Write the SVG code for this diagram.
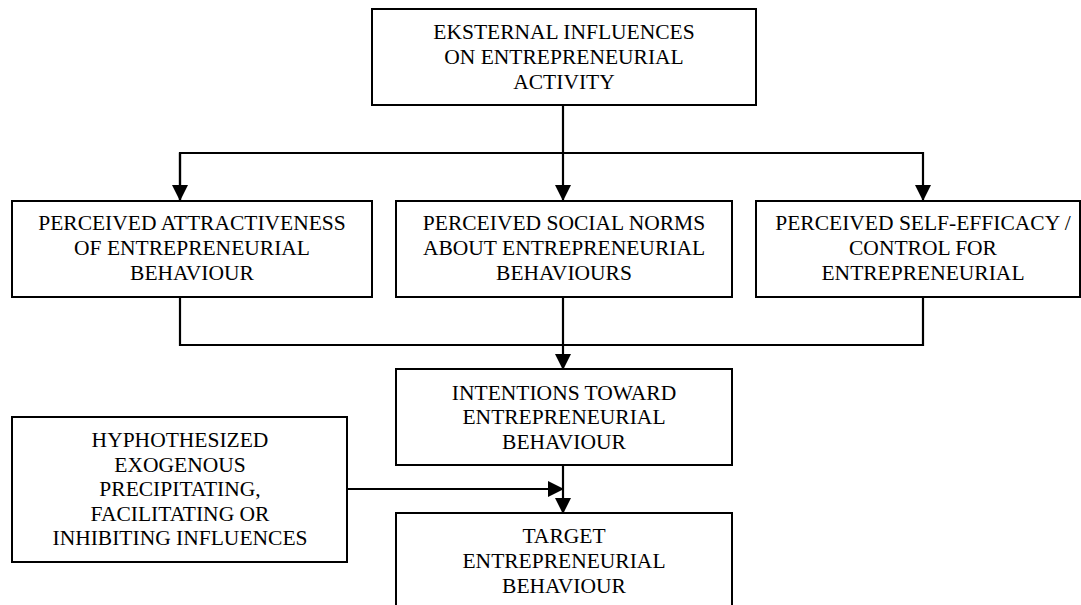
<svg xmlns="http://www.w3.org/2000/svg" width="1081" height="605" viewBox="0 0 1081 605">
<style>
.box{fill:#fff;stroke:#000;stroke-width:2}
.t{font-family:"Liberation Serif","Times New Roman",serif;font-size:21.5px;fill:#000;text-anchor:middle}
.c{fill:none;stroke:#000;stroke-width:2.2}
</style>
<defs>
<marker id="ah" markerUnits="userSpaceOnUse" markerWidth="16" markerHeight="16" viewBox="0 0 16 16" refX="15" refY="8" orient="auto">
<path d="M0,0 L16,8 L0,16 Z" fill="#000"/>
</marker>
</defs>
<rect width="1081" height="605" fill="#fff"/>
<g id="connectors">
<path class="c" d="M563,105 V200" marker-end="url(#ah)"/>
<path class="c" d="M180,200 V153 H923 V200" marker-end="url(#ah)"/>
<path class="c" d="M180,153 V200" marker-end="url(#ah)"/>
<path class="c" d="M180,297 V345 H923 V297"/>
<path class="c" d="M563,297 V369" marker-end="url(#ah)"/>
<path class="c" d="M563,465 V513" marker-end="url(#ah)"/>
<path class="c" d="M347,489 H563" marker-end="url(#ah)"/>
</g>
<g id="external">
<rect class="box" x="372" y="9" width="384" height="96"/>
<text class="t" x="564" y="39">EKSTERNAL INFLUENCES</text>
<text class="t" x="564" y="64">ON ENTREPRENEURIAL</text>
<text class="t" x="564" y="89">ACTIVITY</text>
</g>
<g id="attractiveness">
<rect class="box" x="12" y="201" width="360" height="96"/>
<text class="t" x="192" y="230">PERCEIVED ATTRACTIVENESS</text>
<text class="t" x="192" y="255">OF ENTREPRENEURIAL</text>
<text class="t" x="192" y="280">BEHAVIOUR</text>
</g>
<g id="norms">
<rect class="box" x="396" y="201" width="336" height="96"/>
<text class="t" x="564" y="230">PERCEIVED SOCIAL NORMS</text>
<text class="t" x="564" y="255">ABOUT ENTREPRENEURIAL</text>
<text class="t" x="564" y="280">BEHAVIOURS</text>
</g>
<g id="efficacy">
<rect class="box" x="756" y="201" width="324" height="96"/>
<text class="t" x="923" y="230">PERCEIVED SELF-EFFICACY /</text>
<text class="t" x="923" y="255">CONTROL FOR</text>
<text class="t" x="923" y="280">ENTREPRENEURIAL</text>
</g>
<g id="intentions">
<rect class="box" x="396" y="369" width="336" height="96"/>
<text class="t" x="564" y="400">INTENTIONS TOWARD</text>
<text class="t" x="564" y="424">ENTREPRENEURIAL</text>
<text class="t" x="564" y="449">BEHAVIOUR</text>
</g>
<g id="hypothesized">
<rect class="box" x="12" y="417" width="335" height="145"/>
<text class="t" x="180" y="447">HYPHOTHESIZED</text>
<text class="t" x="180" y="472">EXOGENOUS</text>
<text class="t" x="180" y="496">PRECIPITATING,</text>
<text class="t" x="180" y="521">FACILITATING OR</text>
<text class="t" x="180" y="545">INHIBITING INFLUENCES</text>
</g>
<g id="target">
<rect class="box" x="396" y="513" width="336" height="110"/>
<text class="t" x="564" y="543">TARGET</text>
<text class="t" x="564" y="568">ENTREPRENEURIAL</text>
<text class="t" x="564" y="593">BEHAVIOUR</text>
</g>
</svg>
